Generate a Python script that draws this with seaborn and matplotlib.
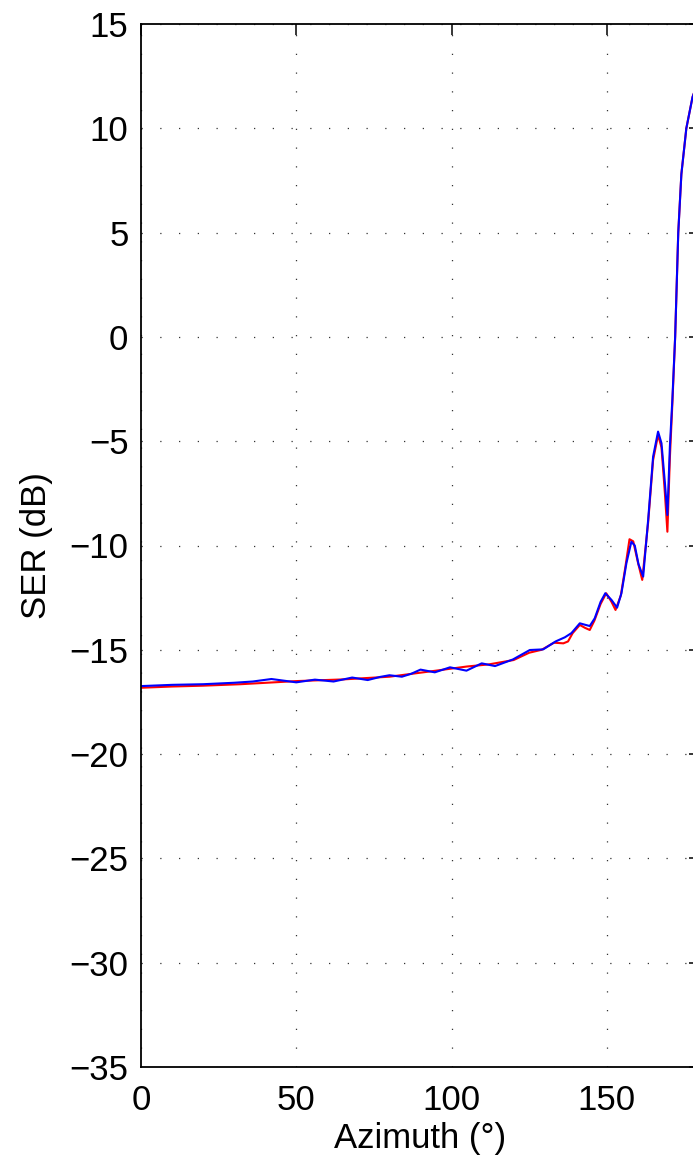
import numpy as np
import pandas as pd
import matplotlib
matplotlib.use("Agg")
import matplotlib.pyplot as plt
import seaborn as sns

# Azimuth (deg) and SER (dB) for the two curves
az_blue = [0, 10, 20, 30, 36, 42, 46, 50, 56, 62, 68, 73, 77, 80, 84, 87, 90,
           94.6, 99.5, 104.8, 109.7, 114, 119.8, 125.2, 129.5, 133.5, 136.5,
           138.6, 141.3, 143, 144.5, 146.1, 148, 149.5, 151.5, 153.3, 154.7,
           156.3, 157.9, 159, 160.2, 161.7, 163.3, 164.9, 166.5, 167.6, 168.7,
           169.5, 170.3, 171.1, 172, 173, 174, 175.6, 177.6, 180]
ser_blue = [-16.74, -16.68, -16.65, -16.58, -16.52, -16.40, -16.48, -16.56,
            -16.43, -16.52, -16.33, -16.45, -16.30, -16.22, -16.29, -16.15,
            -15.95, -16.08, -15.84, -16.00, -15.65, -15.78, -15.46, -15.01,
            -14.98, -14.60, -14.40, -14.20, -13.73, -13.80, -13.86, -13.49,
            -12.70, -12.29, -12.61, -12.98, -12.29, -10.85, -9.82, -10.00,
            -10.90, -11.49, -8.78, -5.74, -4.54, -5.10, -7.00, -8.54, -5.26,
            -3.00, 0.0, 5.0, 7.8, 10.0, 11.5, 12.5]

az_red = [0, 10, 20, 32, 50, 65, 80, 95, 105, 112, 120, 125, 129, 133, 136,
          137.5, 139, 141.3, 143, 144.5, 146, 148, 149.8, 151.5, 152.8, 154.5,
          156, 157.3, 158.5, 160, 161.4, 163.3, 164.9, 166.5, 167.6, 168.7,
          169.5, 170.3, 171.1, 172, 173, 174, 175.6, 177.6, 180]
ser_red = [-16.82, -16.76, -16.72, -16.65, -16.50, -16.42, -16.29, -16.00,
           -15.80, -15.70, -15.49, -15.14, -15.00, -14.66, -14.69, -14.60,
           -14.20, -13.81, -13.95, -14.05, -13.60, -12.80, -12.29, -12.70,
           -13.09, -12.40, -11.00, -9.70, -9.80, -10.80, -11.65, -8.90, -5.90,
           -4.70, -5.30, -7.50, -9.34, -5.80, -3.20, 0.0, 5.0, 7.8, 10.0,
           11.5, 12.5]

x_ticks = [0, 50, 100, 150]
y_ticks = [-35, -30, -25, -20, -15, -10, -5, 0, 5, 10, 15]

sns.set_style("white")
plt.rcParams['font.family'] = ['Liberation Sans', 'DejaVu Sans']
plt.rcParams['axes.unicode_minus'] = True
plt.rcParams['text.color'] = 'black'
plt.rcParams['axes.labelcolor'] = 'black'

fig = plt.figure(figsize=(6.93, 11.64), dpi=100)
ax = fig.add_axes([141 / 693, 97 / 1164, 559 / 693, 1043 / 1164])

df_red = pd.DataFrame({"az": az_red, "ser": ser_red})
df_blue = pd.DataFrame({"az": az_blue, "ser": ser_blue})
sns.lineplot(data=df_red, x="az", y="ser", ax=ax, color="red", lw=1.5,
             sort=False, estimator=None)
sns.lineplot(data=df_blue, x="az", y="ser", ax=ax, color="blue", lw=1.5,
             sort=False, estimator=None)

ax.set_xlim(0, 180)
ax.set_ylim(-35, 15)
ax.set_xticks(x_ticks)
ax.set_yticks(y_ticks)
ax.grid(True, color="#333333", linestyle=(0, (1, 14)), lw=0.9)

for s in ax.spines.values():
    s.set_visible(True)
    s.set_color("black")
    s.set_linewidth(1.3)

ax.tick_params(direction="in", length=8, width=1.1, labelsize=25,
               top=True, right=True, colors="black")
ax.tick_params(axis="x", pad=12)
ax.tick_params(axis="y", pad=9)
ax.set_xlabel("Azimuth (°)", fontsize=25, labelpad=4)
ax.set_ylabel("SER (dB)", fontsize=25, labelpad=12)

fig.savefig("out.png", dpi=100)
